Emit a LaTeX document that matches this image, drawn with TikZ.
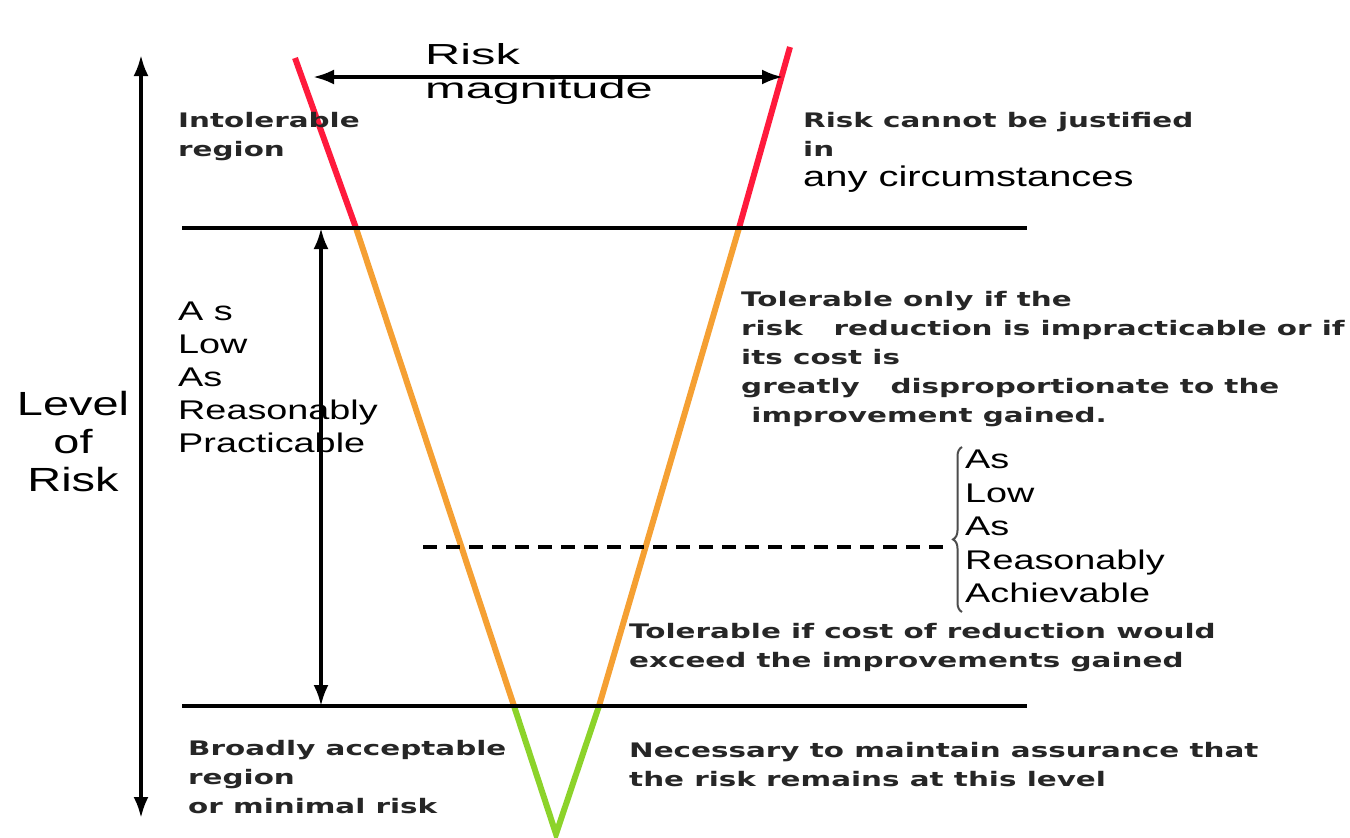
\documentclass[tikz,border=0pt]{standalone}
\usepackage{fontspec}
\usepackage{tikz}
\usetikzlibrary{arrows.meta}
\usetikzlibrary{decorations.pathreplacing}
\newfontfamily\bigfont[FakeStretch=1.4]{Liberation Sans}
\newfontfamily\widefont[FakeStretch=1.68]{Liberation Sans}
\newfontfamily\smallfont[FakeStretch=1.47]{DejaVu Sans}
\definecolor{riskred}{HTML}{FF1A3C}
\definecolor{riskorange}{HTML}{F5A033}
\definecolor{riskgreen}{HTML}{8CD32A}
\definecolor{textgray}{HTML}{262626}

\begin{document}
\begin{tikzpicture}[x=1pt,y=-1pt,
    bigtext/.style={font=\bigfont\fontsize{27}{33}\selectfont,anchor=north west,inner sep=0pt,align=left},
    smalltext/.style={font=\smallfont\bfseries\fontsize{20}{29}\selectfont,text=textgray,anchor=north west,inner sep=0pt,align=left},
    vside/.style={line width=6pt},
    level/.style={line width=3.5pt},
    dimarrow/.style={{Latex[length=21pt,width=15pt]}-{Latex[length=21pt,width=15pt]},line width=3.6pt}]
    \useasboundingbox (0,0) rectangle (1350,838);
    %% the V
    \coordinate (lTop) at (295,58);
    \coordinate (lHigh) at (356,228);
    \coordinate (lLow) at (514,706);
    \coordinate (rTop) at (790,47);
    \coordinate (rHigh) at (739,228);
    \coordinate (rLow) at (599,706);
    \coordinate (tip) at (556,834);
    \draw[vside,riskred] (lTop) -- (lHigh);
    \draw[vside,riskred] (rTop) -- (rHigh);
    \draw[vside,riskorange] (lHigh) -- (lLow);
    \draw[vside,riskorange] (rHigh) -- (rLow);
    \draw[vside,riskgreen,line join=miter] (lLow) -- (tip) -- (rLow);
    %% region borders
    \coordinate (hiStart) at (182,228);
    \coordinate (hiEnd) at (1027,228);
    \coordinate (loStart) at (182,706);
    \coordinate (loEnd) at (1027,706);
    \coordinate (dashStart) at (423,547);
    \coordinate (dashEnd) at (948,547);
    \draw[level] (hiStart) -- (hiEnd);
    \draw[level] (loStart) -- (loEnd);
    \draw[line width=4.5pt,dash pattern=on 14pt off 9pt] (dashStart) -- (dashEnd);
    %% arrows
    \coordinate (axisTop) at (141,55);
    \coordinate (axisBot) at (141,818);
    \coordinate (magL) at (313,77);
    \coordinate (magR) at (783,77);
    \coordinate (alarpTop) at (321,228);
    \coordinate (alarpBot) at (321,706);
    \draw[dimarrow] (axisTop) -- (axisBot);
    \draw[dimarrow] (magL) -- (magR);
    \draw[dimarrow] (alarpTop) -- (alarpBot);
    %% brace
    \coordinate (braceBot) at (962,612);
    \coordinate (braceTop) at (962,447);
    \draw[line width=2pt,draw=black!70,decorate,decoration={brace,amplitude=9pt,aspect=0.44}] (braceBot) -- (braceTop);
    %% labels
    \node[bigtext,font=\widefont\fontsize{29}{34}\selectfont] (mag) at (425,43) {Risk\\magnitude};
    \node[smalltext] (intol) at (178,112) {Intolerable\\region};
    \node[smalltext] (cannot) at (803,112) {Risk cannot be justified\\in};
    \node[bigtext,font=\bigfont\fontsize{28.5}{33}\selectfont] (circ) at (803,166) {any circumstances};
    \node[bigtext] (alarp) at (178,302) {A s\\Low\\As\\Reasonably\\Practicable};
    \node[bigtext,font=\bigfont\fontsize{33.5}{38}\selectfont,anchor=north,align=center] (levelRisk) at (73,391) {Level\\of\\Risk};
    \node[smalltext] (tolOnly) at (741,291) {Tolerable only if the\\risk\ \ \ reduction is impracticable or if\\its cost is\\greatly\ \ \ disproportionate to the\\\ improvement gained.};
    \node[bigtext,font=\bigfont\fontsize{27}{33.5}\selectfont] (alara) at (965,450) {As\\Low\\As\\Reasonably\\Achievable};
    \node[smalltext] (tolCost) at (629,623) {Tolerable if cost of reduction would\\exceed the improvements gained};
    \node[smalltext] (broad) at (188,740) {Broadly acceptable\\region\\or minimal risk};
    \node[smalltext] (necessary) at (629,742) {Necessary to maintain assurance that\\the risk remains at this level};
\end{tikzpicture}
\end{document}
